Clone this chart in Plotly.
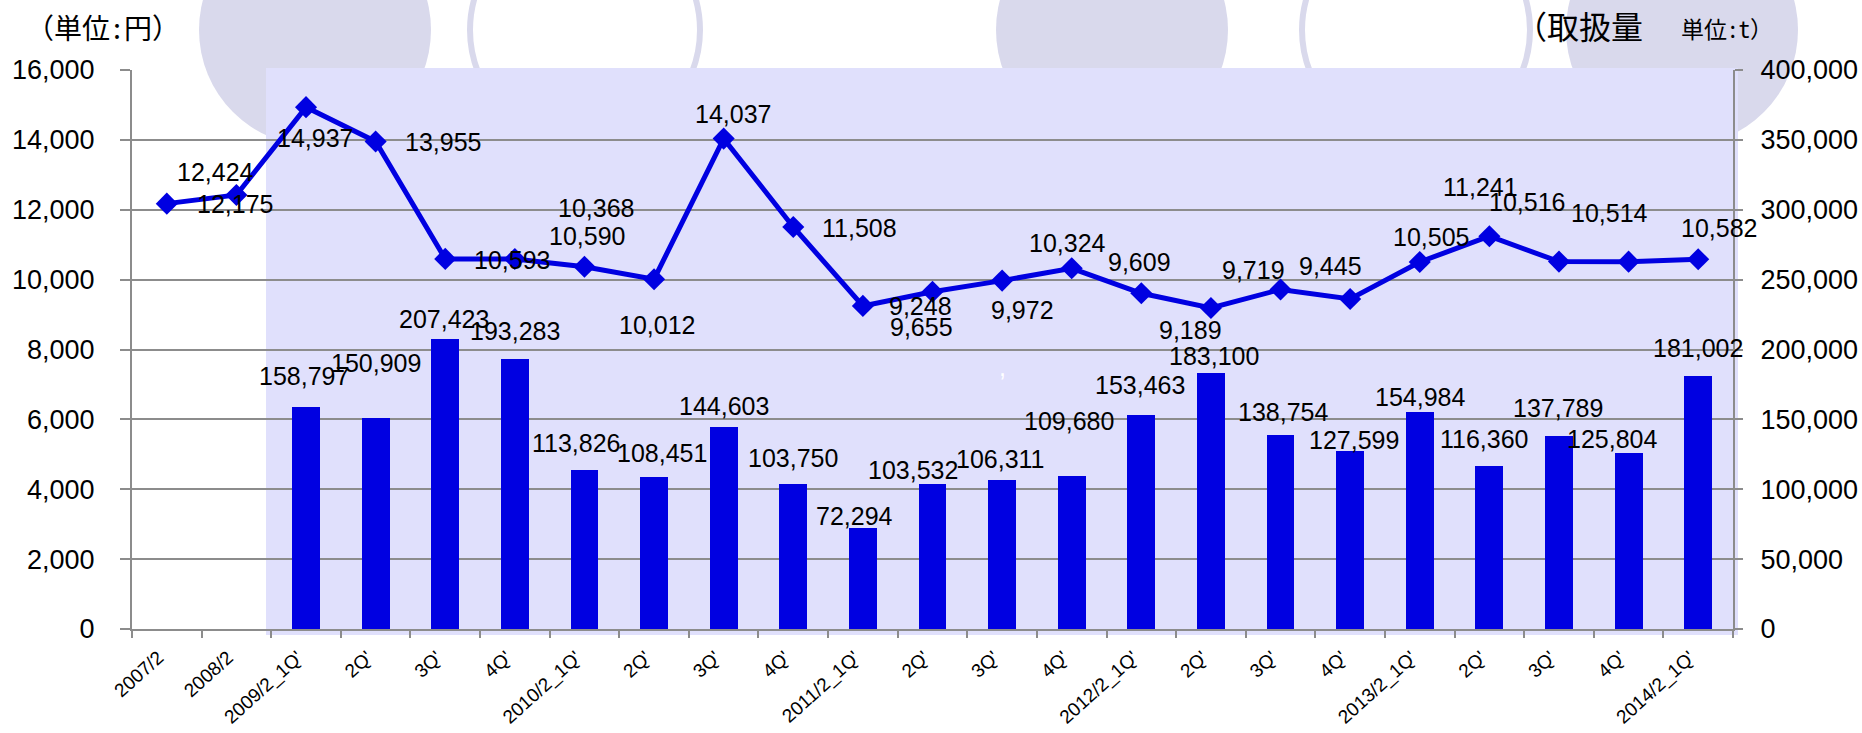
import plotly.graph_objects as go

# ---------------- data ----------------
categories = ["2007/2", "2008/2", "2009/2_1Q'", "2Q'", "3Q'", "4Q'",
              "2010/2_1Q'", "2Q'", "3Q'", "4Q'",
              "2011/2_1Q'", "2Q'", "3Q'", "4Q'",
              "2012/2_1Q'", "2Q'", "3Q'", "4Q'",
              "2013/2_1Q'", "2Q'", "3Q'", "4Q'",
              "2014/2_1Q'"]
unit_price = [12175, 12424, 14937, 13955, 10593, 10590, 10368, 10012,
              14037, 11508, 9248, 9655, 9972, 10324, 9609, 9189,
              9719, 9445, 10505, 11241, 10516, 10514, 10582]
volume = [None, None, 158797, 150909, 207423, 193283, 113826, 108451,
          144603, 103750, 72294, 103532, 106311, 109680, 153463, 183100,
          138754, 127599, 154984, 116360, 137789, 125804, 181002]

# label offsets (pixels, dx right, dy down) - styling only
price_dx = [68, -21, 9, 67, 67, 72, 12, 3, 9, 66, 58, -11, 20, -4, -2, -20, -27, -20, 11, -9, -32, -19, 21]
price_dy = [0, -23, 31, 1, 1, -23, -59, 46, -25, 1, 0, 35, 29, -25, -31, 22, -19, -33, -25, -49, -60, -49, -31]
vol_dx = [0, 0, -2, 0, -1, 0, -8, 8, 0, 0, -8, -20, -2, -3, -1, 3, 2, 4, 0, -5, -1, -17, 0]
vol_dy = [0, 0, -29, -53, -18, -26, -25, -22, -19, -24, -10, -12, -19, -53, -28, -15, -21, -9, -13, -25, -26, -12, -26]

BLUE = "#0000E1"
GRAY = "#8C8C8C"
SHADE = "#E0E0FC"
CIRC = "#D9D9EC"
NUMFONT = "Liberation Sans, Arial, sans-serif"
JPFONT = "Noto Sans Mono CJK JP, Noto Sans CJK JP, sans-serif"
TICK_LABEL_NUDGE = -0.12  # small leftward nudge of rotated category labels

W, H = 1862, 733
L, R, T, B = 132, 1733, 70, 629


def px(x):
    return (x - L) / (R - L)


def py(y):
    return (B - y) / (B - T)


x_idx = list(range(len(categories)))

fig = go.Figure()
fig.add_trace(go.Bar(x=x_idx, y=volume, width=0.4, marker=dict(color=BLUE, line=dict(width=0)),
                     yaxis="y", hoverinfo="skip"))
fig.add_trace(go.Scatter(x=x_idx, y=unit_price, yaxis="y2", mode="lines+markers",
                         line=dict(color=BLUE, width=5),
                         marker=dict(symbol="diamond", size=17, color=BLUE),
                         cliponaxis=False, hoverinfo="skip"))

shapes = []
for cx, cy, r in [(315, 30, 116), (1112, 30, 116), (1682, 30, 116)]:
    shapes.append(dict(type="circle", xref="paper", yref="paper", layer="below",
                       x0=px(cx - r), x1=px(cx + r), y0=py(cy + r), y1=py(cy - r),
                       fillcolor=CIRC, line=dict(width=0)))
for cx, cy, r in [(585, 30, 115), (1416, 30, 114)]:
    shapes.append(dict(type="circle", xref="paper", yref="paper", layer="below",
                       x0=px(cx - r), x1=px(cx + r), y0=py(cy + r), y1=py(cy - r),
                       fillcolor="rgba(0,0,0,0)", line=dict(width=6, color=CIRC)))
shapes.append(dict(type="rect", xref="paper", yref="paper", layer="below",
                   x0=px(266), x1=px(1738), y0=py(635), y1=py(68),
                   fillcolor=SHADE, line=dict(width=0)))

ann = []
for i, v in enumerate(unit_price):
    ann.append(dict(x=i, y=v, xref="x", yref="y2", text=f"{v:,}", showarrow=False,
                    xshift=price_dx[i], yshift=-price_dy[i],
                    font=dict(family=NUMFONT, size=25, color="black")))
for i, v in enumerate(volume):
    if v is None:
        continue
    ann.append(dict(x=i, y=v, xref="x", yref="y", text=f"{v:,}", showarrow=False,
                    yanchor="bottom", xshift=vol_dx[i], yshift=-vol_dy[i] - 14,
                    font=dict(family=NUMFONT, size=25, color="black")))
# stray white comma in the original
ann.append(dict(x=px(1002), y=py(367), xref="paper", yref="paper", text=",", showarrow=False,
                font=dict(family=NUMFONT, size=25, color="white")))
# unit titles
ann.append(dict(x=px(24), y=py(27), xref="paper", yref="paper", text="（単位:円）",
                showarrow=False, xanchor="left", yanchor="middle",
                font=dict(family=JPFONT, size=28, color="black")))
ann.append(dict(x=px(1513), y=py(25), xref="paper", yref="paper", text="（取扱量",
                showarrow=False, xanchor="left", yanchor="middle",
                font=dict(family=JPFONT, size=32, color="black")))
ann.append(dict(x=px(1679), y=py(28), xref="paper", yref="paper", text="単位:t）",
                showarrow=False, xanchor="left", yanchor="middle",
                font=dict(family=JPFONT, size=23, color="black")))

fig.update_layout(
    width=W, height=H, autosize=False,
    margin=dict(l=L, r=W - R, t=T, b=H - B, pad=0),
    paper_bgcolor="white", plot_bgcolor="rgba(0,0,0,0)",
    showlegend=False, bargap=0,
    shapes=shapes, annotations=ann,
    xaxis=dict(range=[-0.5, len(categories) - 0.5], tickmode="array",
               tickvals=[i + TICK_LABEL_NUDGE for i in x_idx],
               ticktext=categories, tickangle=-42, ticks="", showline=True,
               linecolor=GRAY, linewidth=2, showgrid=False, zeroline=False,
               automargin=False, ticklabelstandoff=8,
               tickfont=dict(family=NUMFONT, size=19, color="black"),
               minor=dict(tickmode="array", tickvals=[i - 0.5 for i in range(len(categories) + 1)],
                          ticks="outside", ticklen=7, tickwidth=1.5, tickcolor=GRAY, showgrid=False)),
    yaxis=dict(side="right", range=[0, 400000], tickmode="array",
               tickvals=list(range(0, 400001, 50000)), tickformat=",",
               showgrid=True, gridcolor=GRAY, gridwidth=2, zeroline=False,
               showline=True, linecolor=GRAY, linewidth=2,
               ticks="outside", ticklen=8, tickwidth=2, tickcolor=GRAY,
               automargin=False, ticklabelstandoff=12,
               tickfont=dict(family=NUMFONT, size=27, color="black")),
    yaxis2=dict(overlaying="y", side="left", range=[0, 16000], tickmode="array",
                tickvals=list(range(0, 16001, 2000)), tickformat=",",
                showgrid=False, zeroline=False,
                showline=True, linecolor=GRAY, linewidth=2,
                ticks="outside", ticklen=10, tickwidth=2, tickcolor=GRAY,
                automargin=False, ticklabelstandoff=20,
                tickfont=dict(family=NUMFONT, size=27, color="black")),
)

fig.write_html("out.html", config={"displayModeBar": False},
               post_script="document.body.style.margin='0';document.body.style.overflow='hidden';")
